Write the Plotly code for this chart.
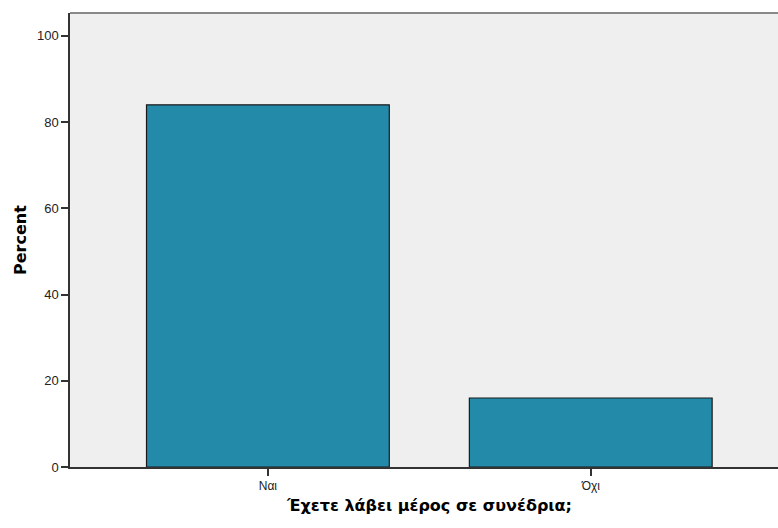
import plotly.graph_objects as go

categories = ["Ναι", "Όχι"]
percent = [84.0, 16.0]
y_ticks = [0, 20, 40, 60, 80, 100]
x_title = "Έχετε λάβει μέρος σε συνέδρια;"
y_title = "Percent"

L, T, W, H = 70, 13, 708, 454
FW, FH = 778, 528

fig = go.Figure()
fig.add_trace(go.Bar(
    x=[0, 1], y=percent, width=0.752,
    marker=dict(color="#248AAA", line=dict(color="#1a1a1a", width=1.2)),
))

fig.update_layout(
    width=FW, height=FH,
    margin=dict(l=L, r=FW - L - W, t=T, b=FH - T - H),
    paper_bgcolor="white", plot_bgcolor="#EFEFEF",
    showlegend=False,
    font=dict(family="Liberation Sans, Arial, sans-serif", color="#222"),
    xaxis=dict(
        range=[-0.613, 1.58], tickvals=[0, 1], ticktext=categories,
        ticks="outside", ticklen=7, tickwidth=1.5, tickcolor="#333",
        showline=True, linecolor="#333", linewidth=1.5,
        showgrid=False, zeroline=False, tickfont=dict(size=12, color="#222"),
    ),
    yaxis=dict(
        range=[0, 105.3], tickvals=y_ticks,
        ticks="outside", ticklen=7, tickwidth=1.5, tickcolor="#333",
        showline=True, linecolor="#333", linewidth=1.5,
        showgrid=False, zeroline=False, tickfont=dict(size=13, color="#222"),
    ),
    shapes=[dict(type="line", xref="paper", yref="paper", x0=0, x1=1, y0=1, y1=1,
                 line=dict(color="#888", width=2))],
    annotations=[
        dict(text=f"<b>{x_title}</b>", xref="paper", yref="paper",
             x=(429 - L) / W, y=-(505 - (T + H)) / H, showarrow=False,
             xanchor="center", yanchor="middle",
             font=dict(family="DejaVu Sans, sans-serif", size=16, color="#000")),
        dict(text=f"<b>{y_title}</b>", xref="paper", yref="paper",
             x=-(L - 20) / W, y=0.5, showarrow=False, textangle=-90,
             xanchor="center", yanchor="middle",
             font=dict(family="DejaVu Sans, sans-serif", size=16, color="#000")),
    ],
)

fig.write_html(
    "out.html",
    config={"displayModeBar": False},
    post_script="document.body.style.margin='0';document.body.style.overflow='hidden';",
)
